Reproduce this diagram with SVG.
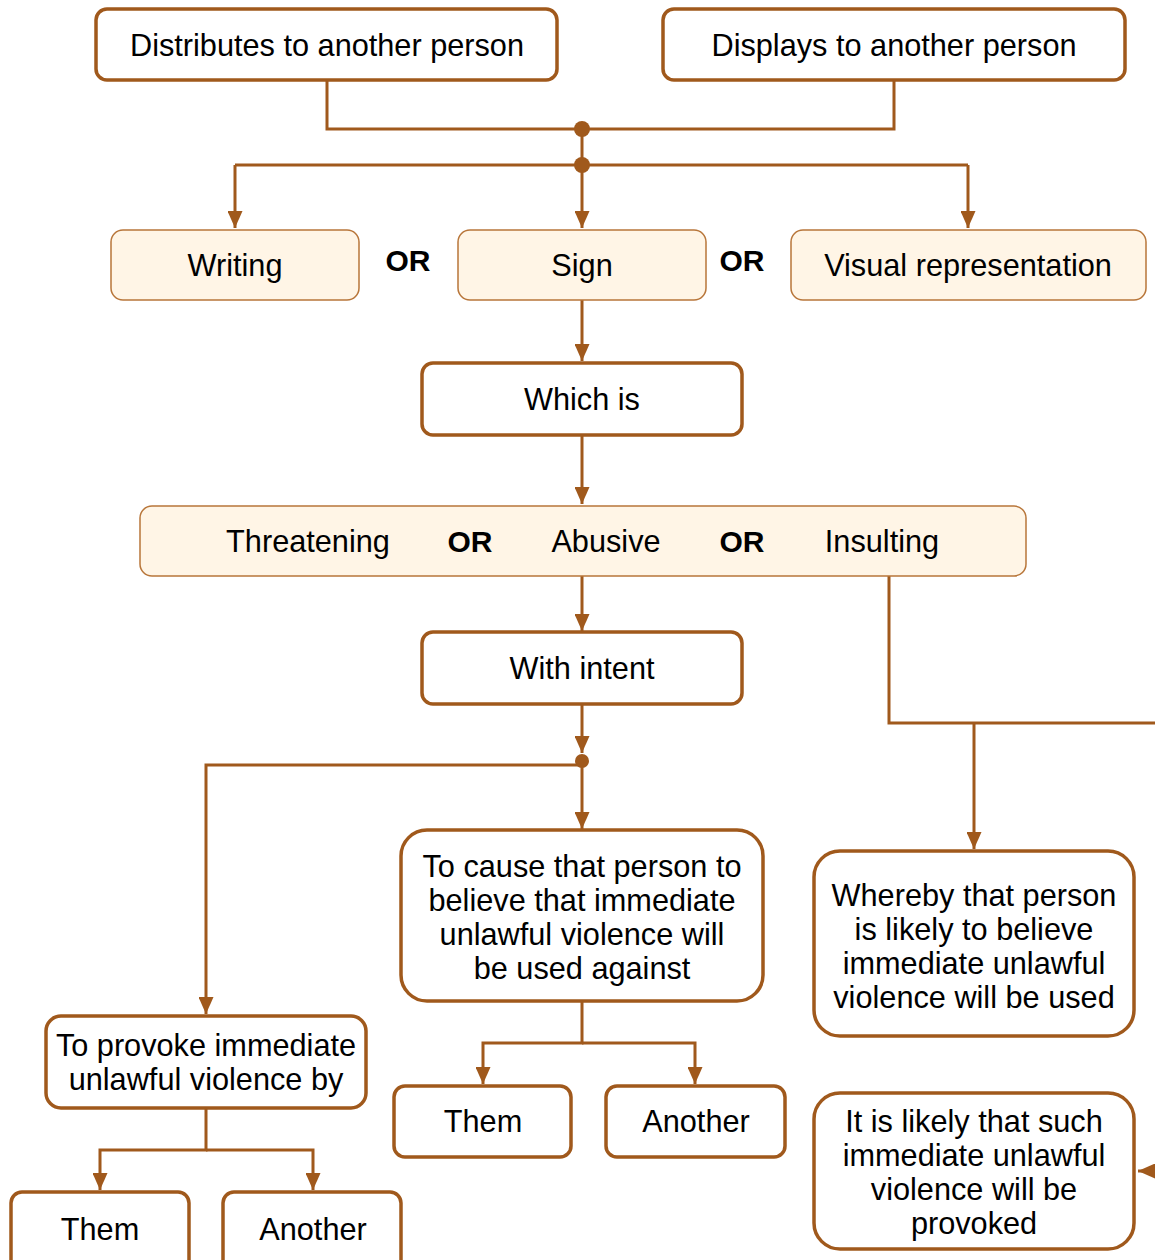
<svg xmlns="http://www.w3.org/2000/svg" width="1155" height="1260" viewBox="0 0 1155 1260">
<style>
.b{fill:#fff;stroke:#A0591C;stroke-width:3.5}
.f{fill:#FFF5E6;stroke:#B8763A;stroke-width:1.5}
.t{font-family:"Liberation Sans",Arial,sans-serif;font-size:30.7px;fill:#000;text-anchor:middle}
.o{font-family:"Liberation Sans",Arial,sans-serif;font-size:30px;font-weight:bold;fill:#000;text-anchor:middle}
.c{fill:none;stroke:#A0591C;stroke-width:3}
.d{fill:#A0591C}
</style>
<defs>
<marker id="ad" markerUnits="userSpaceOnUse" markerWidth="17" markerHeight="15" viewBox="0 0 17 15" refX="17" refY="7.5" orient="auto">
<path d="M0,0 L17,7.5 L0,15 Z" fill="#A0591C"/>
</marker>
</defs>
<g id="connectors">
<path class="c" d="M327,80 V129 H582"/>
<path class="c" d="M894,80 V129 H582"/>
<path class="c" d="M582,129 V165"/>
<path class="c" d="M235,165 H968"/>
<path class="c" d="M235,165 V228" marker-end="url(#ad)"/>
<path class="c" d="M582,165 V228" marker-end="url(#ad)"/>
<path class="c" d="M968,165 V228" marker-end="url(#ad)"/>
<circle class="d" cx="582" cy="129" r="8"/>
<circle class="d" cx="582" cy="165" r="8"/>
<path class="c" d="M582,300 V361" marker-end="url(#ad)"/>
<path class="c" d="M582,435 V504" marker-end="url(#ad)"/>
<path class="c" d="M582,576 V631" marker-end="url(#ad)"/>
<path class="c" d="M582,704 V753" marker-end="url(#ad)"/>
<circle class="d" cx="582" cy="761" r="7"/>
<path class="c" d="M582,761 V829" marker-end="url(#ad)"/>
<path class="c" d="M582,765 H206 V1014" marker-end="url(#ad)"/>
<path class="c" d="M582,1001 V1043 H483 V1084" marker-end="url(#ad)"/>
<path class="c" d="M582,1043 H695 V1084" marker-end="url(#ad)"/>
<path class="c" d="M206,1108 V1150 H100 V1190" marker-end="url(#ad)"/>
<path class="c" d="M206,1150 H313 V1190" marker-end="url(#ad)"/>
<path class="c" d="M889,576 V723 H1155"/>
<path class="c" d="M974,723 V849" marker-end="url(#ad)"/>
<path class="c" d="M1158,1171 H1138" marker-end="url(#ad)"/>
</g>
<g id="n1"><rect class="b" x="96" y="9" width="461" height="71" rx="11"/><text class="t" x="327" y="56">Distributes to another person</text></g>
<g id="n2"><rect class="b" x="663" y="9" width="462" height="71" rx="11"/><text class="t" x="894" y="56">Displays to another person</text></g>
<g id="n3"><rect class="f" x="111" y="230" width="248" height="70" rx="12"/><text class="t" x="235" y="276">Writing</text></g>
<text class="o" x="408" y="271">OR</text>
<g id="n4"><rect class="f" x="458" y="230" width="248" height="70" rx="12"/><text class="t" x="582" y="276">Sign</text></g>
<text class="o" x="742" y="271">OR</text>
<g id="n5"><rect class="f" x="791" y="230" width="355" height="70" rx="12"/><text class="t" x="968" y="276">Visual representation</text></g>
<g id="n6"><rect class="b" x="422" y="363" width="320" height="72" rx="11"/><text class="t" x="582" y="410">Which is</text></g>
<g id="n7"><rect class="f" x="140" y="506" width="886" height="70" rx="12"/>
<text class="t" x="308" y="552">Threatening</text><text class="o" x="470" y="552">OR</text><text class="t" x="606" y="552">Abusive</text><text class="o" x="742" y="552">OR</text><text class="t" x="882" y="552">Insulting</text></g>
<g id="n8"><rect class="b" x="422" y="632" width="320" height="72" rx="11"/><text class="t" x="582" y="679">With intent</text></g>
<g id="n9"><rect class="b" x="401" y="830" width="362" height="171" rx="26"/>
<text class="t" x="582" y="877">To cause that person to</text><text class="t" x="582" y="911">believe that immediate</text><text class="t" x="582" y="945">unlawful violence will</text><text class="t" x="582" y="979">be used against</text></g>
<g id="n10"><rect class="b" x="814" y="851" width="320" height="185" rx="26"/>
<text class="t" x="974" y="906">Whereby that person</text><text class="t" x="974" y="940">is likely to believe</text><text class="t" x="974" y="974">immediate unlawful</text><text class="t" x="974" y="1008">violence will be used</text></g>
<g id="n11"><rect class="b" x="46" y="1016" width="320" height="92" rx="15"/>
<text class="t" x="206" y="1056">To provoke immediate</text><text class="t" x="206" y="1090">unlawful violence by</text></g>
<g id="n12"><rect class="b" x="394" y="1086" width="177" height="71" rx="11"/><text class="t" x="483" y="1132">Them</text></g>
<g id="n13"><rect class="b" x="606" y="1086" width="179" height="71" rx="11"/><text class="t" x="696" y="1132">Another</text></g>
<g id="n14"><rect class="b" x="814" y="1093" width="320" height="156" rx="26"/>
<text class="t" x="974" y="1132">It is likely that such</text><text class="t" x="974" y="1166">immediate unlawful</text><text class="t" x="974" y="1200">violence will be</text><text class="t" x="974" y="1234">provoked</text></g>
<g id="n15"><rect class="b" x="11" y="1192" width="178" height="80" rx="11"/><text class="t" x="100" y="1240">Them</text></g>
<g id="n16"><rect class="b" x="223" y="1192" width="178" height="80" rx="11"/><text class="t" x="313" y="1240">Another</text></g>
</svg>
